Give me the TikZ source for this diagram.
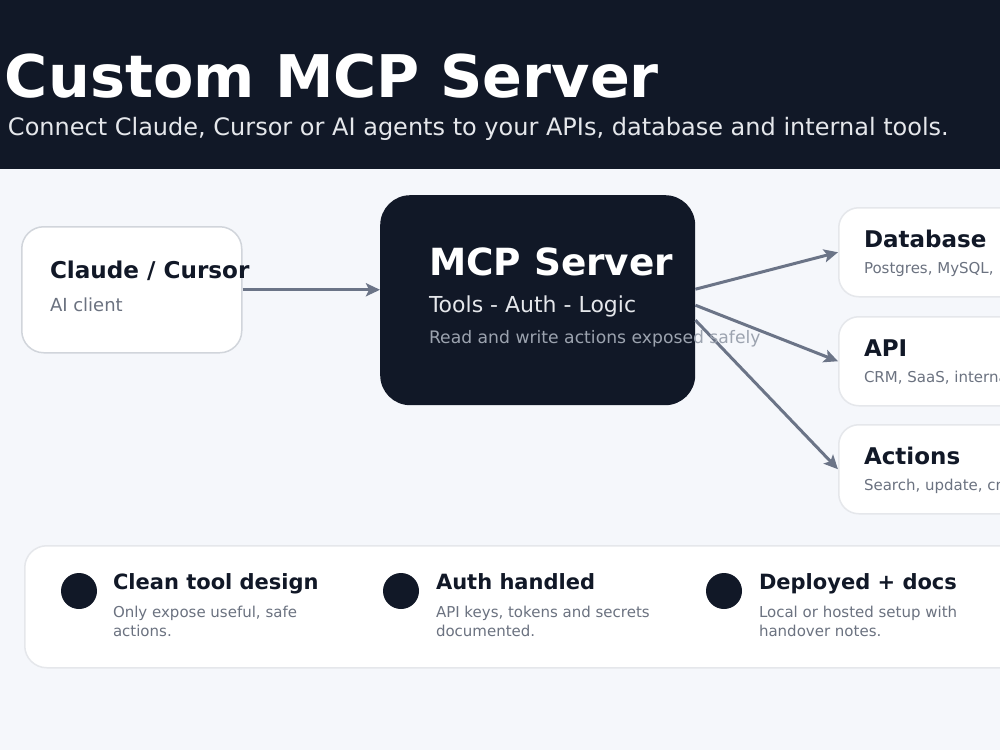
\documentclass[tikz,border=0pt]{standalone}
\usepackage{fontspec}
\setmainfont{DejaVu Sans}
\usetikzlibrary{arrows.meta,calc}
\definecolor{navy}{HTML}{111827}
\definecolor{pagebg}{HTML}{F5F7FB}
\definecolor{subgray}{HTML}{6B7280}
\definecolor{lightline}{HTML}{E5E7EB}
\definecolor{midline}{HTML}{D1D5DB}
\definecolor{headsub}{HTML}{E5E7EB}
\definecolor{faint}{HTML}{9CA3AF}
\definecolor{arrowc}{HTML}{6B7487}
\tikzset{
  txt/.style={anchor=base west,inner sep=0pt,outer sep=0pt},
  card/.style={draw=lightline,line width=1.5pt,fill=white,rounded corners=20pt,anchor=north west,inner sep=0pt},
  arr/.style={draw=arrowc,line width=3pt,-{Stealth[length=14pt,width=13pt,inset=3pt]}},
  dot/.style={circle,fill=navy,minimum size=36pt,inner sep=0pt},
}
\begin{document}
\begin{tikzpicture}[x=1pt,y=-1pt]
\useasboundingbox (0,0) rectangle (1000,750);
\clip (0,0) rectangle (1000,750);
\fill[pagebg] (0,0) rectangle (1000,750);
\fill[navy] (0,0) rectangle (1000,169);
\node[txt,text=white,font=\bfseries\fontsize{58.8}{66}\selectfont] (title) at (5,97) {Custom MCP Server};
\node[txt,text=headsub,font=\fontsize{24}{28}\selectfont] (subtitle) at (8,135) {Connect Claude, Cursor or AI agents to your APIs, database and internal tools.};

% client
\node[card,draw=midline,rounded corners=22pt,minimum width=220pt,minimum height=126pt] (claude) at (21,226) {};
\node[txt,text=navy,font=\bfseries\fontsize{23.1}{26}\selectfont] (claudet) at (50,278) {Claude / Cursor};
\node[txt,text=subgray,font=\fontsize{18}{22}\selectfont] (claudes) at (50,311) {AI client};

% server
\node[fill=navy,rounded corners=30pt,anchor=north west,minimum width=315pt,minimum height=210pt,inner sep=0pt] (server) at (380,195) {};
\node[txt,text=white,font=\bfseries\fontsize{37.4}{44}\selectfont] (servert) at (429,275) {MCP Server};
\node[txt,text=headsub,font=\fontsize{22}{26}\selectfont] (servers) at (429,312) {Tools - Auth - Logic};

% targets
\node[card,minimum width=230pt,minimum height=89pt] (db) at (838,207) {};
\node[txt,text=navy,font=\bfseries\fontsize{23}{26}\selectfont] (dbt) at (864,247) {Database};
\node[txt,text=subgray,font=\fontsize{15}{18}\selectfont] (dbs) at (864,273) {Postgres, MySQL,};

\node[card,minimum width=230pt,minimum height=89pt] (api) at (838,316) {};
\node[txt,text=navy,font=\bfseries\fontsize{23}{26}\selectfont] (apit) at (864,356) {API};
\node[txt,text=subgray,font=\fontsize{15}{18}\selectfont] (apis) at (864,382) {CRM, SaaS, internal};

\node[card,minimum width=230pt,minimum height=89pt] (act) at (838,424) {};
\node[txt,text=navy,font=\bfseries\fontsize{23}{26}\selectfont] (actt) at (864,464) {Actions};
\node[txt,text=subgray,font=\fontsize{15}{18}\selectfont] (acts) at (864,490) {Search, update, create};

% arrows
\draw[arr] (claude.east) -- (claude.east -| server.west);
\draw[arr] ([yshift=11pt]server.east) -- (db.west);
\draw[arr] ([yshift=-5pt]server.east) -- (api.west);
\draw[arr] ([yshift=-20pt]server.east) -- (act.west);

\node[txt,text=faint,font=\fontsize{17.2}{20}\selectfont] (serverd) at (429,343) {Read and write actions exposed safely};

% bottom panel
\node[card,rounded corners=22pt,minimum width=1000pt,minimum height=122pt] (panel) at (24,545) {};
\node[dot] (d1) at (79,591) {};
\node[dot] (d2) at (401,591) {};
\node[dot] (d3) at (724,591) {};
\node[txt,text=navy,font=\bfseries\fontsize{21}{24}\selectfont] (f1) at (113,589) {Clean tool design};
\node[txt,text=subgray,font=\fontsize{15}{19}\selectfont] (f1a) at (113,617) {Only expose useful, safe};
\node[txt,text=subgray,font=\fontsize{15}{19}\selectfont] (f1b) at (113,636) {actions.};
\node[txt,text=navy,font=\bfseries\fontsize{21}{24}\selectfont] (f2) at (436,589) {Auth handled};
\node[txt,text=subgray,font=\fontsize{15}{19}\selectfont] (f2a) at (436,617) {API keys, tokens and secrets};
\node[txt,text=subgray,font=\fontsize{15}{19}\selectfont] (f2b) at (436,636) {documented.};
\node[txt,text=navy,font=\bfseries\fontsize{21}{24}\selectfont] (f3) at (759,589) {Deployed + docs};
\node[txt,text=subgray,font=\fontsize{15}{19}\selectfont] (f3a) at (759,617) {Local or hosted setup with};
\node[txt,text=subgray,font=\fontsize{15}{19}\selectfont] (f3b) at (759,636) {handover notes.};
\end{tikzpicture}
\end{document}
